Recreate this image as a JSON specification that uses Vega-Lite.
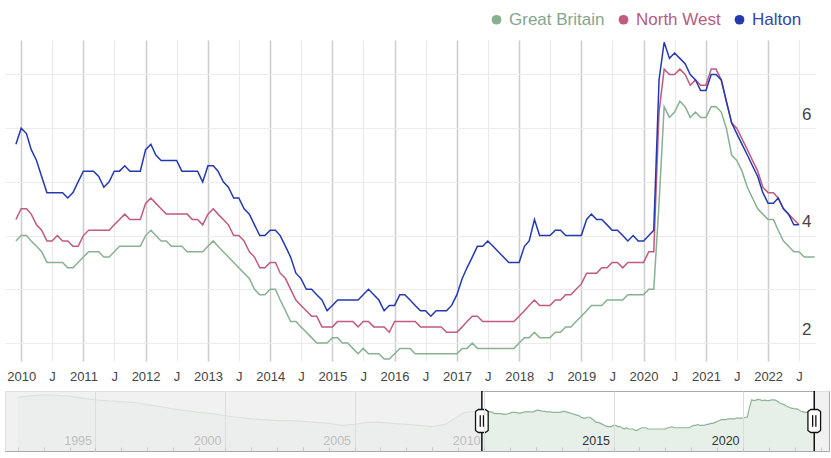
{
  "$schema": "https://vega.github.io/schema/vega-lite/v6.json",
  "background": "white",
  "padding": {"left": 4, "top": 11, "right": 0, "bottom": 0},
  "config": {"font": "Liberation Sans", "view": {"stroke": null}},
  "spacing": 5,
  "resolve": {"scale": {"x": "independent", "y": "independent", "color": "independent"}, "legend": {"color": "independent"}},
  "datasets": {
    "handles": [{"date": "2009-12-01"}, {"date": "2022-10-01"}],
    "unselected": [{"start": "1991-07-05", "end": "2009-12-01"}, {"start": "2022-10-01", "end": "2023-04-27"}],
    "rates": [
      {"date": "1992-01-01", "Great Britain": 7.1},
      {"date": "1992-07-01", "Great Britain": 7.6},
      {"date": "1993-01-01", "Great Britain": 7.9},
      {"date": "1993-07-01", "Great Britain": 7.8},
      {"date": "1994-01-01", "Great Britain": 7.5},
      {"date": "1994-07-01", "Great Britain": 6.9},
      {"date": "1995-01-01", "Great Britain": 6.4},
      {"date": "1995-07-01", "Great Britain": 6.1},
      {"date": "1996-01-01", "Great Britain": 5.9},
      {"date": "1996-07-01", "Great Britain": 5.7},
      {"date": "1997-01-01", "Great Britain": 5.2},
      {"date": "1997-07-01", "Great Britain": 4.8},
      {"date": "1998-01-01", "Great Britain": 4.3},
      {"date": "1998-07-01", "Great Britain": 4.0},
      {"date": "1999-01-01", "Great Britain": 3.7},
      {"date": "1999-07-01", "Great Britain": 3.5},
      {"date": "2000-01-01", "Great Britain": 3.2},
      {"date": "2000-07-01", "Great Britain": 3.0},
      {"date": "2001-01-01", "Great Britain": 2.8},
      {"date": "2001-07-01", "Great Britain": 2.7},
      {"date": "2002-01-01", "Great Britain": 2.6},
      {"date": "2002-07-01", "Great Britain": 2.6},
      {"date": "2003-01-01", "Great Britain": 2.5},
      {"date": "2003-07-01", "Great Britain": 2.4},
      {"date": "2004-01-01", "Great Britain": 2.3},
      {"date": "2004-07-01", "Great Britain": 2.1},
      {"date": "2005-01-01", "Great Britain": 2.2},
      {"date": "2005-07-01", "Great Britain": 2.4},
      {"date": "2006-01-01", "Great Britain": 2.4},
      {"date": "2006-07-01", "Great Britain": 2.3},
      {"date": "2007-01-01", "Great Britain": 2.2},
      {"date": "2007-07-01", "Great Britain": 2.1},
      {"date": "2008-01-01", "Great Britain": 2.0},
      {"date": "2008-07-01", "Great Britain": 2.2},
      {"date": "2009-01-01", "Great Britain": 3.1},
      {"date": "2009-04-01", "Great Britain": 3.7},
      {"date": "2009-07-01", "Great Britain": 3.8},
      {"date": "2009-10-01", "Great Britain": 3.8},
      {"date": "2009-12-01", "Great Britain": 3.9, "North West": 4.3, "Halton": 5.7},
      {"date": "2010-01-01", "Great Britain": 4.0, "North West": 4.5, "Halton": 6.0},
      {"date": "2010-02-01", "Great Britain": 4.0, "North West": 4.5, "Halton": 5.9},
      {"date": "2010-03-01", "Great Britain": 3.9, "North West": 4.4, "Halton": 5.6},
      {"date": "2010-04-01", "Great Britain": 3.8, "North West": 4.2, "Halton": 5.4},
      {"date": "2010-05-01", "Great Britain": 3.7, "North West": 4.1, "Halton": 5.1},
      {"date": "2010-06-01", "Great Britain": 3.5, "North West": 3.9, "Halton": 4.8},
      {"date": "2010-07-01", "Great Britain": 3.5, "North West": 3.9, "Halton": 4.8},
      {"date": "2010-08-01", "Great Britain": 3.5, "North West": 4.0, "Halton": 4.8},
      {"date": "2010-09-01", "Great Britain": 3.5, "North West": 3.9, "Halton": 4.8},
      {"date": "2010-10-01", "Great Britain": 3.4, "North West": 3.9, "Halton": 4.7},
      {"date": "2010-11-01", "Great Britain": 3.4, "North West": 3.8, "Halton": 4.8},
      {"date": "2010-12-01", "Great Britain": 3.5, "North West": 3.8, "Halton": 5.0},
      {"date": "2011-01-01", "Great Britain": 3.6, "North West": 4.0, "Halton": 5.2},
      {"date": "2011-02-01", "Great Britain": 3.7, "North West": 4.1, "Halton": 5.2},
      {"date": "2011-03-01", "Great Britain": 3.7, "North West": 4.1, "Halton": 5.2},
      {"date": "2011-04-01", "Great Britain": 3.7, "North West": 4.1, "Halton": 5.1},
      {"date": "2011-05-01", "Great Britain": 3.6, "North West": 4.1, "Halton": 4.9},
      {"date": "2011-06-01", "Great Britain": 3.6, "North West": 4.1, "Halton": 5.0},
      {"date": "2011-07-01", "Great Britain": 3.7, "North West": 4.2, "Halton": 5.2},
      {"date": "2011-08-01", "Great Britain": 3.8, "North West": 4.3, "Halton": 5.2},
      {"date": "2011-09-01", "Great Britain": 3.8, "North West": 4.4, "Halton": 5.3},
      {"date": "2011-10-01", "Great Britain": 3.8, "North West": 4.3, "Halton": 5.2},
      {"date": "2011-11-01", "Great Britain": 3.8, "North West": 4.3, "Halton": 5.2},
      {"date": "2011-12-01", "Great Britain": 3.8, "North West": 4.3, "Halton": 5.2},
      {"date": "2012-01-01", "Great Britain": 4.0, "North West": 4.6, "Halton": 5.6},
      {"date": "2012-02-01", "Great Britain": 4.1, "North West": 4.7, "Halton": 5.7},
      {"date": "2012-03-01", "Great Britain": 4.0, "North West": 4.6, "Halton": 5.5},
      {"date": "2012-04-01", "Great Britain": 3.9, "North West": 4.5, "Halton": 5.4},
      {"date": "2012-05-01", "Great Britain": 3.9, "North West": 4.4, "Halton": 5.4},
      {"date": "2012-06-01", "Great Britain": 3.8, "North West": 4.4, "Halton": 5.4},
      {"date": "2012-07-01", "Great Britain": 3.8, "North West": 4.4, "Halton": 5.4},
      {"date": "2012-08-01", "Great Britain": 3.8, "North West": 4.4, "Halton": 5.2},
      {"date": "2012-09-01", "Great Britain": 3.7, "North West": 4.4, "Halton": 5.2},
      {"date": "2012-10-01", "Great Britain": 3.7, "North West": 4.3, "Halton": 5.2},
      {"date": "2012-11-01", "Great Britain": 3.7, "North West": 4.3, "Halton": 5.2},
      {"date": "2012-12-01", "Great Britain": 3.7, "North West": 4.2, "Halton": 5.0},
      {"date": "2013-01-01", "Great Britain": 3.8, "North West": 4.4, "Halton": 5.3},
      {"date": "2013-02-01", "Great Britain": 3.9, "North West": 4.5, "Halton": 5.3},
      {"date": "2013-03-01", "Great Britain": 3.8, "North West": 4.4, "Halton": 5.2},
      {"date": "2013-04-01", "Great Britain": 3.7, "North West": 4.3, "Halton": 5.0},
      {"date": "2013-05-01", "Great Britain": 3.6, "North West": 4.2, "Halton": 4.9},
      {"date": "2013-06-01", "Great Britain": 3.5, "North West": 4.0, "Halton": 4.7},
      {"date": "2013-07-01", "Great Britain": 3.4, "North West": 4.0, "Halton": 4.7},
      {"date": "2013-08-01", "Great Britain": 3.3, "North West": 3.9, "Halton": 4.5},
      {"date": "2013-09-01", "Great Britain": 3.2, "North West": 3.7, "Halton": 4.4},
      {"date": "2013-10-01", "Great Britain": 3.0, "North West": 3.6, "Halton": 4.2},
      {"date": "2013-11-01", "Great Britain": 2.9, "North West": 3.4, "Halton": 4.0},
      {"date": "2013-12-01", "Great Britain": 2.9, "North West": 3.4, "Halton": 4.0},
      {"date": "2014-01-01", "Great Britain": 3.0, "North West": 3.5, "Halton": 4.1},
      {"date": "2014-02-01", "Great Britain": 3.0, "North West": 3.5, "Halton": 4.1},
      {"date": "2014-03-01", "Great Britain": 2.8, "North West": 3.3, "Halton": 4.0},
      {"date": "2014-04-01", "Great Britain": 2.6, "North West": 3.2, "Halton": 3.8},
      {"date": "2014-05-01", "Great Britain": 2.4, "North West": 3.0, "Halton": 3.6},
      {"date": "2014-06-01", "Great Britain": 2.4, "North West": 2.8, "Halton": 3.3},
      {"date": "2014-07-01", "Great Britain": 2.3, "North West": 2.7, "Halton": 3.2},
      {"date": "2014-08-01", "Great Britain": 2.2, "North West": 2.6, "Halton": 3.0},
      {"date": "2014-09-01", "Great Britain": 2.1, "North West": 2.5, "Halton": 3.0},
      {"date": "2014-10-01", "Great Britain": 2.0, "North West": 2.5, "Halton": 2.9},
      {"date": "2014-11-01", "Great Britain": 2.0, "North West": 2.3, "Halton": 2.8},
      {"date": "2014-12-01", "Great Britain": 2.0, "North West": 2.3, "Halton": 2.6},
      {"date": "2015-01-01", "Great Britain": 2.1, "North West": 2.3, "Halton": 2.7},
      {"date": "2015-02-01", "Great Britain": 2.1, "North West": 2.4, "Halton": 2.8},
      {"date": "2015-03-01", "Great Britain": 2.0, "North West": 2.4, "Halton": 2.8},
      {"date": "2015-04-01", "Great Britain": 2.0, "North West": 2.4, "Halton": 2.8},
      {"date": "2015-05-01", "Great Britain": 1.9, "North West": 2.4, "Halton": 2.8},
      {"date": "2015-06-01", "Great Britain": 1.8, "North West": 2.3, "Halton": 2.8},
      {"date": "2015-07-01", "Great Britain": 1.9, "North West": 2.4, "Halton": 2.9},
      {"date": "2015-08-01", "Great Britain": 1.8, "North West": 2.4, "Halton": 3.0},
      {"date": "2015-09-01", "Great Britain": 1.8, "North West": 2.3, "Halton": 2.9},
      {"date": "2015-10-01", "Great Britain": 1.8, "North West": 2.3, "Halton": 2.8},
      {"date": "2015-11-01", "Great Britain": 1.7, "North West": 2.3, "Halton": 2.6},
      {"date": "2015-12-01", "Great Britain": 1.7, "North West": 2.2, "Halton": 2.7},
      {"date": "2016-01-01", "Great Britain": 1.8, "North West": 2.4, "Halton": 2.7},
      {"date": "2016-02-01", "Great Britain": 1.9, "North West": 2.4, "Halton": 2.9},
      {"date": "2016-03-01", "Great Britain": 1.9, "North West": 2.4, "Halton": 2.9},
      {"date": "2016-04-01", "Great Britain": 1.9, "North West": 2.4, "Halton": 2.8},
      {"date": "2016-05-01", "Great Britain": 1.8, "North West": 2.4, "Halton": 2.7},
      {"date": "2016-06-01", "Great Britain": 1.8, "North West": 2.3, "Halton": 2.6},
      {"date": "2016-07-01", "Great Britain": 1.8, "North West": 2.3, "Halton": 2.6},
      {"date": "2016-08-01", "Great Britain": 1.8, "North West": 2.3, "Halton": 2.5},
      {"date": "2016-09-01", "Great Britain": 1.8, "North West": 2.3, "Halton": 2.6},
      {"date": "2016-10-01", "Great Britain": 1.8, "North West": 2.3, "Halton": 2.6},
      {"date": "2016-11-01", "Great Britain": 1.8, "North West": 2.2, "Halton": 2.6},
      {"date": "2016-12-01", "Great Britain": 1.8, "North West": 2.2, "Halton": 2.7},
      {"date": "2017-01-01", "Great Britain": 1.8, "North West": 2.2, "Halton": 2.9},
      {"date": "2017-02-01", "Great Britain": 1.9, "North West": 2.3, "Halton": 3.2},
      {"date": "2017-03-01", "Great Britain": 1.9, "North West": 2.4, "Halton": 3.4},
      {"date": "2017-04-01", "Great Britain": 2.0, "North West": 2.5, "Halton": 3.6},
      {"date": "2017-05-01", "Great Britain": 1.9, "North West": 2.5, "Halton": 3.8},
      {"date": "2017-06-01", "Great Britain": 1.9, "North West": 2.4, "Halton": 3.8},
      {"date": "2017-07-01", "Great Britain": 1.9, "North West": 2.4, "Halton": 3.9},
      {"date": "2017-08-01", "Great Britain": 1.9, "North West": 2.4, "Halton": 3.8},
      {"date": "2017-09-01", "Great Britain": 1.9, "North West": 2.4, "Halton": 3.7},
      {"date": "2017-10-01", "Great Britain": 1.9, "North West": 2.4, "Halton": 3.6},
      {"date": "2017-11-01", "Great Britain": 1.9, "North West": 2.4, "Halton": 3.5},
      {"date": "2017-12-01", "Great Britain": 1.9, "North West": 2.4, "Halton": 3.5},
      {"date": "2018-01-01", "Great Britain": 2.0, "North West": 2.5, "Halton": 3.5},
      {"date": "2018-02-01", "Great Britain": 2.1, "North West": 2.6, "Halton": 3.8},
      {"date": "2018-03-01", "Great Britain": 2.1, "North West": 2.7, "Halton": 3.9},
      {"date": "2018-04-01", "Great Britain": 2.2, "North West": 2.8, "Halton": 4.3},
      {"date": "2018-05-01", "Great Britain": 2.1, "North West": 2.7, "Halton": 4.0},
      {"date": "2018-06-01", "Great Britain": 2.1, "North West": 2.7, "Halton": 4.0},
      {"date": "2018-07-01", "Great Britain": 2.1, "North West": 2.7, "Halton": 4.0},
      {"date": "2018-08-01", "Great Britain": 2.2, "North West": 2.8, "Halton": 4.1},
      {"date": "2018-09-01", "Great Britain": 2.2, "North West": 2.8, "Halton": 4.1},
      {"date": "2018-10-01", "Great Britain": 2.3, "North West": 2.9, "Halton": 4.0},
      {"date": "2018-11-01", "Great Britain": 2.3, "North West": 2.9, "Halton": 4.0},
      {"date": "2018-12-01", "Great Britain": 2.4, "North West": 3.0, "Halton": 4.0},
      {"date": "2019-01-01", "Great Britain": 2.5, "North West": 3.1, "Halton": 4.0},
      {"date": "2019-02-01", "Great Britain": 2.6, "North West": 3.3, "Halton": 4.3},
      {"date": "2019-03-01", "Great Britain": 2.7, "North West": 3.3, "Halton": 4.4},
      {"date": "2019-04-01", "Great Britain": 2.7, "North West": 3.3, "Halton": 4.3},
      {"date": "2019-05-01", "Great Britain": 2.7, "North West": 3.4, "Halton": 4.3},
      {"date": "2019-06-01", "Great Britain": 2.8, "North West": 3.4, "Halton": 4.2},
      {"date": "2019-07-01", "Great Britain": 2.8, "North West": 3.5, "Halton": 4.1},
      {"date": "2019-08-01", "Great Britain": 2.8, "North West": 3.5, "Halton": 4.1},
      {"date": "2019-09-01", "Great Britain": 2.8, "North West": 3.4, "Halton": 4.0},
      {"date": "2019-10-01", "Great Britain": 2.9, "North West": 3.5, "Halton": 3.9},
      {"date": "2019-11-01", "Great Britain": 2.9, "North West": 3.5, "Halton": 4.0},
      {"date": "2019-12-01", "Great Britain": 2.9, "North West": 3.5, "Halton": 3.9},
      {"date": "2020-01-01", "Great Britain": 2.9, "North West": 3.5, "Halton": 3.9},
      {"date": "2020-02-01", "Great Britain": 3.0, "North West": 3.7, "Halton": 4.0},
      {"date": "2020-03-01", "Great Britain": 3.0, "North West": 3.7, "Halton": 4.1},
      {"date": "2020-04-01", "Great Britain": 4.6, "North West": 6.3, "Halton": 6.9},
      {"date": "2020-05-01", "Great Britain": 6.4, "North West": 7.1, "Halton": 7.6},
      {"date": "2020-06-01", "Great Britain": 6.2, "North West": 7.0, "Halton": 7.3},
      {"date": "2020-07-01", "Great Britain": 6.3, "North West": 7.0, "Halton": 7.4},
      {"date": "2020-08-01", "Great Britain": 6.5, "North West": 7.1, "Halton": 7.3},
      {"date": "2020-09-01", "Great Britain": 6.4, "North West": 7.0, "Halton": 7.2},
      {"date": "2020-10-01", "Great Britain": 6.2, "North West": 6.8, "Halton": 7.0},
      {"date": "2020-11-01", "Great Britain": 6.3, "North West": 6.9, "Halton": 6.9},
      {"date": "2020-12-01", "Great Britain": 6.2, "North West": 6.8, "Halton": 6.7},
      {"date": "2021-01-01", "Great Britain": 6.2, "North West": 6.8, "Halton": 6.7},
      {"date": "2021-02-01", "Great Britain": 6.4, "North West": 7.1, "Halton": 7.0},
      {"date": "2021-03-01", "Great Britain": 6.4, "North West": 7.1, "Halton": 7.0},
      {"date": "2021-04-01", "Great Britain": 6.3, "North West": 6.9, "Halton": 6.9},
      {"date": "2021-05-01", "Great Britain": 6.0, "North West": 6.5, "Halton": 6.5},
      {"date": "2021-06-01", "Great Britain": 5.5, "North West": 6.1, "Halton": 6.1},
      {"date": "2021-07-01", "Great Britain": 5.4, "North West": 6.0, "Halton": 5.9},
      {"date": "2021-08-01", "Great Britain": 5.2, "North West": 5.8, "Halton": 5.7},
      {"date": "2021-09-01", "Great Britain": 4.9, "North West": 5.6, "Halton": 5.5},
      {"date": "2021-10-01", "Great Britain": 4.7, "North West": 5.4, "Halton": 5.3},
      {"date": "2021-11-01", "Great Britain": 4.5, "North West": 5.2, "Halton": 5.1},
      {"date": "2021-12-01", "Great Britain": 4.4, "North West": 4.9, "Halton": 4.8},
      {"date": "2022-01-01", "Great Britain": 4.3, "North West": 4.8, "Halton": 4.6},
      {"date": "2022-02-01", "Great Britain": 4.3, "North West": 4.8, "Halton": 4.6},
      {"date": "2022-03-01", "Great Britain": 4.1, "North West": 4.7, "Halton": 4.7},
      {"date": "2022-04-01", "Great Britain": 3.9, "North West": 4.5, "Halton": 4.5},
      {"date": "2022-05-01", "Great Britain": 3.8, "North West": 4.4, "Halton": 4.4},
      {"date": "2022-06-01", "Great Britain": 3.7, "North West": 4.3, "Halton": 4.2},
      {"date": "2022-07-01", "Great Britain": 3.7, "North West": 4.2, "Halton": 4.2},
      {"date": "2022-08-01", "Great Britain": 3.6},
      {"date": "2022-09-01", "Great Britain": 3.6},
      {"date": "2022-10-01", "Great Britain": 3.6}
    ]
  },
  "vconcat": [
    {
      "width": 811,
      "height": 321,
      "view": {"stroke": null},
      "data": {"name": "rates"},
      "transform": [
        {"filter": {"field": "date", "gte": {"year": 2009, "month": 12, "date": 1, "utc": true}}},
        {"fold": ["Great Britain", "North West", "Halton"], "as": ["series", "rate"]},
        {"filter": "isValid(datum.rate)"}
      ],
      "mark": {"type": "line", "strokeWidth": 1.5},
      "encoding": {
        "x": {
          "field": "date", "type": "temporal",
          "scale": {"type": "utc", "domain": [{"year": 2009, "month": 9, "date": 28, "utc": true}, {"year": 2022, "month": 10, "date": 9, "utc": true}]},
          "axis": {
            "orient": "bottom", "title": null, "domain": false, "ticks": false, "tickSize": 0,
            "tickCount": {"interval": "month", "step": 6},
            "grid": true,
            "gridColor": {"condition": {"test": "utcmonth(datum.value) == 0", "value": "#cccccc"}, "value": "#e9e9e9"},
            "gridWidth": {"condition": {"test": "utcmonth(datum.value) == 0", "value": 1.5}, "value": 1},
            "labelExpr": "utcmonth(datum.value) == 0 ? utcFormat(datum.value, '%Y') : 'J'",
            "labelFontSize": 13, "labelColor": "#444444", "labelBaseline": "alphabetic", "labelPadding": 19.5,
            "labelOverlap": false, "labelFlush": false, "labelBound": false
          }
        },
        "y": {
          "field": "rate", "type": "quantitative",
          "scale": {"domain": [1.665, 7.642], "zero": false, "nice": false},
          "axis": {
            "orient": "right", "title": null, "domain": false, "ticks": false, "tickSize": 0,
            "values": [2, 3, 4, 5, 6, 7], "grid": true, "gridColor": "#ebebeb",
            "labelExpr": "datum.value % 2 == 0 ? datum.label : ''",
            "labelFontSize": 17, "labelColor": "#444444", "labelAlign": "right", "labelBaseline": "alphabetic",
            "labelPadding": -5, "labelOffset": -9, "labelOverlap": false, "labelBound": false, "labelFlush": false
          }
        },
        "color": {
          "field": "series", "type": "nominal",
          "scale": {"domain": ["Great Britain", "North West", "Halton"], "range": ["#88b191", "#c05a7f", "#2439b0"]},
          "legend": {
            "orient": "none", "legendX": 483, "legendY": -29, "direction": "horizontal", "title": null,
            "symbolType": "circle", "symbolSize": 95, "symbolStrokeWidth": 0, "symbolOpacity": 1,
            "labelFontSize": 17, "labelOffset": 4, "columnPadding": 10, "padding": 0,
            "encode": {
              "symbols": {"update": {
                "fill": {"signal": "datum.value === 'Great Britain' ? '#88b191' : datum.value === 'North West' ? '#c05a7f' : '#2439b0'"},
                "stroke": {"value": "transparent"},
                "opacity": {"value": 1}
              }},
              "labels": {"update": {
                "fill": {"signal": "datum.value === 'Great Britain' ? '#86a58d' : datum.value === 'North West' ? '#b65c80' : '#3444a8'"}
              }}
            }
          }
        }
      }
    },
    {
      "width": 824,
      "height": 60,
      "view": {"stroke": "#a8a8a8", "fill": "white"},
      "layer": [
        {
          "data": {"name": "rates"},
          "mark": {"type": "area", "fill": "#e6f0e8", "stroke": null},
          "encoding": {
            "x": {"field": "date", "type": "temporal",
              "scale": {"type": "utc", "domain": [{"year": 1991, "month": 7, "date": 5, "utc": true}, {"year": 2023, "month": 4, "date": 27, "utc": true}]},
              "axis": {
                "orient": "bottom", "title": null, "domain": false, "zindex": 1,
                "tickCount": {"interval": "year", "step": 1}, "ticks": true, "tickSize": -4, "tickColor": "#c8c8c8",
                "grid": true, "gridColor": "#dcdcdc",
                "gridOpacity": {"condition": {"test": "utcyear(datum.value) % 5 == 0", "value": 1}, "value": 0},
                "labelExpr": "utcyear(datum.value) % 5 == 0 ? utcFormat(datum.value, '%Y') : ''",
                "labelAlign": "right", "labelBaseline": "alphabetic", "labelOffset": -4, "labelPadding": -3,
                "labelFontSize": 12.5,
                "labelColor": {"condition": {"test": "utcyear(datum.value) >= 2015", "value": "#333333"}, "value": "#bdbdbd"},
                "labelOverlap": false, "labelFlush": false, "labelBound": false
              }},
            "y": {"field": "Great Britain", "type": "quantitative", "scale": {"type": "log", "domain": [0.692, 9.39], "nice": false}, "axis": null},
            "y2": {"datum": 0.692}
          }
        },
        {
          "data": {"name": "rates"},
          "mark": {"type": "line", "color": "#8db595", "strokeWidth": 1.2},
          "encoding": {
            "x": {"field": "date", "type": "temporal"},
            "y": {"field": "Great Britain", "type": "quantitative"}
          }
        },
        {
          "data": {"name": "unselected"},
          "mark": {"type": "rect", "fill": "#eeeeee", "opacity": 0.8},
          "encoding": {
            "x": {"field": "start", "type": "temporal"},
            "x2": {"field": "end"}
          }
        },
        {
          "data": {"name": "handles"},
          "mark": {"type": "rule", "color": "#111111", "strokeWidth": 1.5},
          "encoding": {"x": {"field": "date", "type": "temporal"}}
        },
        {
          "data": {"name": "handles"},
          "mark": {"type": "point", "shape": "M-0.55,-0.82 L-0.3,-1 L0.3,-1 L0.55,-0.82 L0.55,0.82 L0.3,1 L-0.3,1 L-0.55,0.82 Z M-0.14,-0.5 L-0.14,0.5 M0.14,-0.5 L0.14,0.5", "size": 529, "filled": true, "fill": "white", "stroke": "#111111", "strokeWidth": 1.3, "opacity": 1},
          "encoding": {"x": {"field": "date", "type": "temporal"}}
        }
      ]
    }
  ]
}
